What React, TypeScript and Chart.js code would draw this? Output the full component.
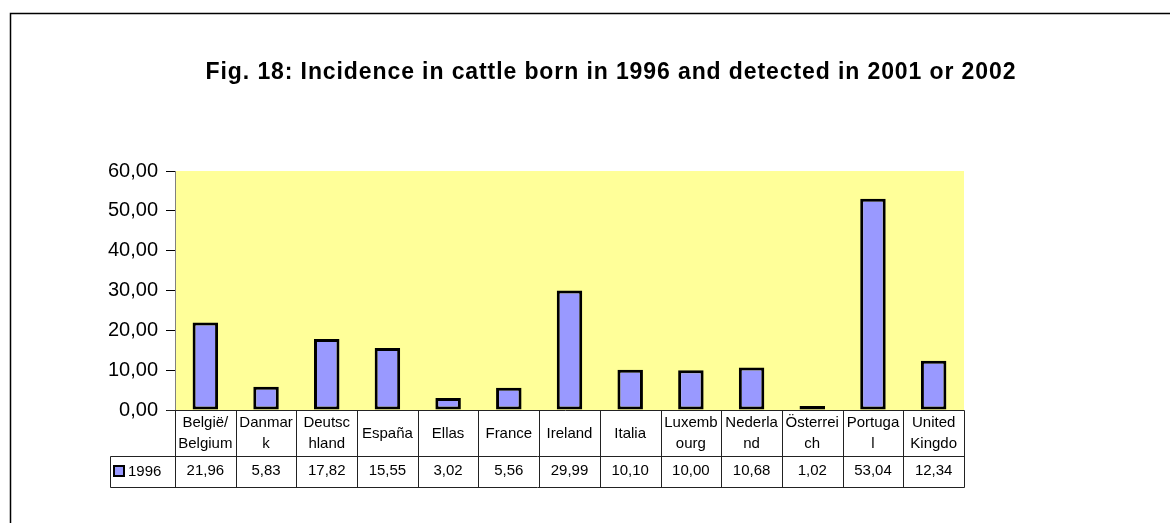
import React, { useEffect, useRef } from "react";
import { Chart, registerables } from "chart.js";

Chart.register(...registerables);

const TITLE = "Fig. 18: Incidence in cattle born in 1996 and detected in 2001 or 2002";
const SERIES_NAME = "1996";
const CATEGORIES: (string | string[])[] = [
  ["België/", "Belgium"],
  ["Danmar", "k"],
  ["Deutsc", "hland"],
  "España",
  "Ellas",
  "France",
  "Ireland",
  "Italia",
  ["Luxemb", "ourg"],
  ["Nederla", "nd"],
  ["Österrei", "ch"],
  ["Portuga", "l"],
  ["United", "Kingdo"],
];
const VALUES = [21.96, 5.83, 17.82, 15.55, 3.02, 5.56, 29.99, 10.1, 10.0, 10.68, 1.02, 53.04, 12.34];
const Y_MIN = 0;
const Y_MAX = 60;
const Y_STEP = 10;

const fmt = (v: number) => v.toFixed(2).replace(".", ",");

export default function App() {
  const ref = useRef<HTMLCanvasElement | null>(null);

  useEffect(() => {
    const canvas = ref.current;
    if (!canvas) return;

    const framePlugin = {
      id: "frame",
      beforeDraw(chart: any) {
        const { ctx, chartArea } = chart;
        ctx.save();
        ctx.fillStyle = "#ffffff";
        ctx.fillRect(0, 0, chart.width, chart.height);
        ctx.strokeStyle = "#000000";
        ctx.lineWidth = 1.5;
        ctx.strokeRect(10.5, 13.5, 1400, 800);
        ctx.fillStyle = "#FFFF99";
        ctx.fillRect(chartArea.left, chartArea.top, chartArea.right - chartArea.left, chartArea.bottom - chartArea.top);
        // title
        ctx.fillStyle = "#000";
        ctx.font = "bold 23px Arial, 'Liberation Sans', sans-serif";
        (ctx as any).letterSpacing = "0.9px";
        ctx.textAlign = "center";
        ctx.textBaseline = "alphabetic";
        ctx.fillText(TITLE, 611, 79);
        (ctx as any).letterSpacing = "0px";
        ctx.restore();
      },
      afterDraw(chart: any) {
        const { ctx, chartArea } = chart;
        const x = chart.scales.x;
        const half = (x.getPixelForValue(1) - x.getPixelForValue(0)) / 2;
        const top = Math.round(chartArea.bottom) + 0.5;
        const mid = 456.5;
        const bot = 487.5;
        const left = Math.round(chartArea.left) + 0.5;
        const right = Math.round(chartArea.right) + 0.5;
        ctx.save();
        ctx.strokeStyle = "#222";
        ctx.lineWidth = 1;
        ctx.beginPath();
        ctx.moveTo(left - 9, top);
        ctx.lineTo(right, top);
        ctx.moveTo(110.5, mid);
        ctx.lineTo(right, mid);
        ctx.moveTo(110.5, bot);
        ctx.lineTo(right, bot);
        ctx.moveTo(110.5, mid);
        ctx.lineTo(110.5, bot);
        for (let i = 0; i <= CATEGORIES.length; i++) {
          const px = Math.round(x.getPixelForValue(0) - half + i * half * 2) + 0.5;
          ctx.moveTo(px, top);
          ctx.lineTo(px, bot);
        }
        ctx.stroke();

        ctx.fillStyle = "#000";
        ctx.font = "15px Arial, 'Liberation Sans', sans-serif";
        ctx.textAlign = "center";
        ctx.textBaseline = "middle";
        CATEGORIES.forEach((c, i) => {
          const cx = x.getPixelForValue(i);
          if (Array.isArray(c)) {
            ctx.fillText(c[0], cx, 423);
            ctx.fillText(c[1], cx, 444);
          } else {
            ctx.fillText(c, cx, 434);
          }
          ctx.fillText(fmt(VALUES[i]), cx, 471);
        });
        ctx.fillStyle = "#9999FF";
        ctx.fillRect(114, 466, 10, 10);
        ctx.strokeStyle = "#000";
        ctx.lineWidth = 2;
        ctx.strokeRect(114, 466, 10, 10);
        ctx.fillStyle = "#000";
        ctx.textAlign = "left";
        ctx.fillText(SERIES_NAME, 128, 472);
        ctx.restore();
      },
    };

    const chart = new Chart(canvas, {
      type: "bar",
      data: {
        labels: CATEGORIES as any,
        datasets: [
          {
            label: SERIES_NAME,
            data: VALUES,
            backgroundColor: "#9999FF",
            borderColor: "#000000",
            borderWidth: 3,
            borderSkipped: false,
            barPercentage: 0.42,
            categoryPercentage: 1,
          },
        ],
      },
      options: {
        responsive: false,
        animation: false,
        devicePixelRatio: 1,
        layout: { padding: { left: 0, right: 206, top: 171, bottom: 113 } },
        plugins: {
          legend: { display: false },
          title: { display: false },
          tooltip: { enabled: false },
        },
        scales: {
          x: { display: false },
          y: {
            min: Y_MIN,
            max: Y_MAX,
            afterFit: (s: any) => {
              s.width = 175;
            },
            ticks: {
              stepSize: Y_STEP,
              padding: 8,
              color: "#000",
              font: { family: "Arial, 'Liberation Sans', sans-serif", size: 20 },
              callback: (v: any) => fmt(Number(v)),
            },
            grid: {
              drawOnChartArea: false,
              drawTicks: true,
              tickLength: 9,
              color: "#000",
            },
            border: { display: true, color: "#808080", width: 1 },
          },
        },
      },
      plugins: [framePlugin],
    });
    return () => chart.destroy();
  }, []);

  return (
    <div style={{ position: "absolute", left: 0, top: 0, width: 1170, height: 523 }}>
      <canvas ref={ref} width={1170} height={523} style={{ width: 1170, height: 523, display: "block" }} />
    </div>
  );
}
